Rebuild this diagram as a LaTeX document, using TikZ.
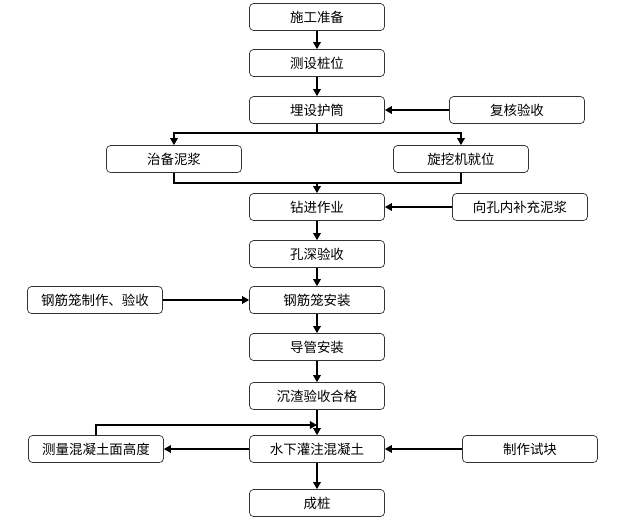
\documentclass[tikz,border=0pt]{standalone}
\usepackage{fontspec}
\setmainfont{Noto Sans CJK SC}
\usetikzlibrary{arrows.meta}

\tikzset{
  stepbox/.style={draw=black!80, line width=0.6pt, rounded corners=0.12cm,
    minimum width=4.05cm, minimum height=0.81cm, inner sep=0pt,
    font=\fontsize{11.5pt}{13pt}\selectfont},
  flow/.style={-{Triangle[width=6.5pt,length=6pt]}, line width=1.1pt},
  line/.style={line width=1.1pt}
}

\begin{document}
\begin{tikzpicture}[x=0.03cm,y=-0.03cm]
\useasboundingbox (0,0) rectangle (622,522);
% main column
\node[stepbox] (prep) at (317,17) {施工准备};
\node[stepbox] (survey) at (317,63) {测设桩位};
\node[stepbox] (casing) at (317,110) {埋设护筒};
\node[stepbox] (check) at (517,110) {复核验收};
\node[stepbox] (mud) at (174,159) {治备泥浆};
\node[stepbox] (rig) at (461,159) {旋挖机就位};
\node[stepbox] (drill) at (317,207) {钻进作业};
\node[stepbox] (refill) at (520,207) {向孔内补充泥浆};
\node[stepbox] (depth) at (317,254) {孔深验收};
\node[stepbox] (cagemk) at (95,300) {钢筋笼制作、验收};
\node[stepbox] (cage) at (317,300) {钢筋笼安装};
\node[stepbox] (pipe) at (317,347) {导管安装};
\node[stepbox] (sed) at (317,396) {沉渣验收合格};
\node[stepbox] (pour) at (317,449) {水下灌注混凝土};
\node[stepbox] (measure) at (96,449) {测量混凝土面高度};
\node[stepbox] (trial) at (530,449) {制作试块};
\node[stepbox] (pile) at (317,503) {成桩};
\coordinate (split) at (317,133);
\coordinate (merge) at (317,183);
\coordinate (loop) at (317,425);

\draw[flow] (prep)--(survey);
\draw[flow] (survey)--(casing);
\draw[flow] (check)--(casing);
\draw[flow] (casing.south)--(split)-|(mud.north);
\draw[flow] (split)-|(rig.north);
\draw[line] (mud.south)|-(merge)-|(rig.south);
\draw[flow] (merge)--(drill);
\draw[flow] (refill)--(drill);
\draw[flow] (drill)--(depth);
\draw[flow] (depth)--(cage);
\draw[flow] (cagemk)--(cage);
\draw[flow] (cage)--(pipe);
\draw[flow] (pipe)--(sed);
\draw[flow] (sed)--(pour);
\draw[flow] (pour)--(measure);
\draw[flow] (trial)--(pour);
\draw[flow] (measure.north)|-(loop);
\draw[flow] (pour)--(pile);
\end{tikzpicture}
\end{document}
